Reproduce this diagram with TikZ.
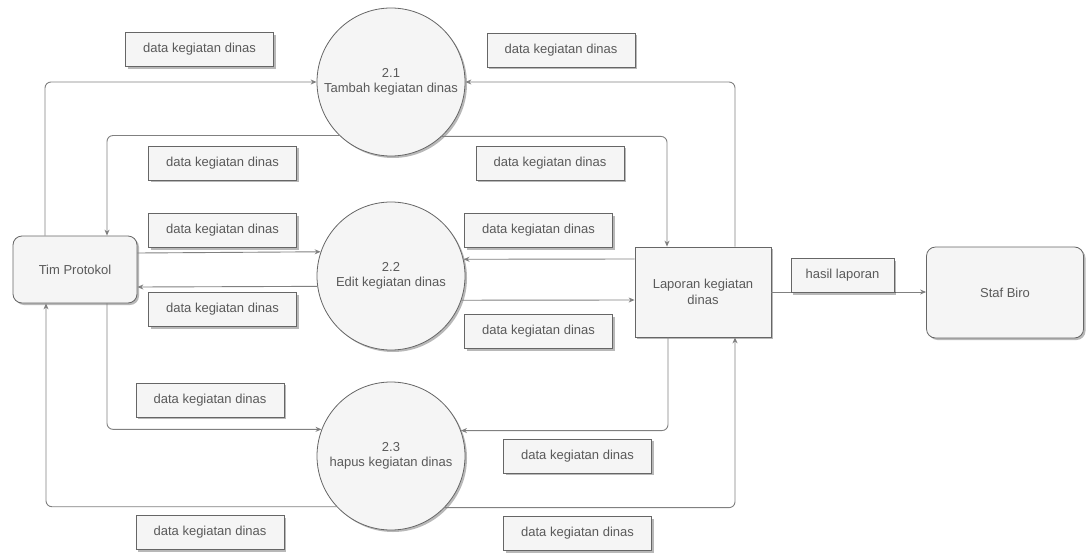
\documentclass[tikz,border=0pt]{standalone}
\usepackage{fontspec}
\setmainfont{Liberation Sans}
\usetikzlibrary{arrows.meta,shadows}
\definecolor{lnc}{HTML}{808080}
\definecolor{bdc}{HTML}{666666}
\definecolor{fil}{HTML}{F5F5F5}
\definecolor{txc}{HTML}{5A5A5A}
\begin{document}
\begin{tikzpicture}[x=1pt,y=-1pt,
  shad/.style={drop shadow={shadow xshift=2pt,shadow yshift=-2pt,fill=black,opacity=0.28}},
  base/.style={draw=bdc,fill=fil,text=txc,font=\fontsize{13}{15.5}\selectfont,line width=0.8pt,align=center,inner sep=0pt,shad},
  proc/.style={base,circle,minimum size=148pt},
  ent/.style={base,rectangle,rounded corners=9pt},
  store/.style={base,rectangle},
  lbl/.style={base,rectangle,minimum width=148pt,minimum height=34pt},
  flow/.style={draw=lnc,line width=0.9pt,rounded corners=6pt,-{Stealth[length=6pt,width=5pt]}}
]
\fill[white] (0,0) rectangle (1086,554);
\useasboundingbox (0,0) rectangle (1086,554);

% main nodes
\node[ent,minimum width=124pt,minimum height=67pt] (tp) at (75,269.5) {Tim Protokol};
\node[proc] (c1) at (391,82) {2.1\\Tambah kegiatan dinas};
\node[proc] (c2) at (391,276) {2.2\\Edit kegiatan dinas};
\node[proc] (c3) at (391,456) {2.3\\hapus kegiatan dinas};
\node[store,minimum width=136pt,minimum height=90pt] (lap) at (703,292) {Laporan kegiatan\\dinas};
\node[ent,minimum width=157pt,minimum height=91pt] (staf) at (1005,292.5) {Staf Biro};

% connectors
\draw[flow] (tp.north -| 45,0) |- (c1.180);
\draw[flow] (c1.226.8) -| (tp.north -| 107,0);
\draw[flow] (c1.313.2) -| (lap.north -| 667,0);
\draw[flow] (lap.north -| 735,0) |- (c1.0);

\draw[flow] (tp.east |- 0,253) -- (c2.161.9);
\draw[flow] (c2.188.55) -- (tp.east |- 0,287);
\draw[flow] (lap.west |- 0,259) -- (c2.13.3);
\draw[flow] (c2.341.1) -- (lap.west |- 0,300);

\draw[flow] (tp.south -| 107,0) |- (c3.159.4);
\draw[flow] (lap.south -| 668,0) |- (c3.20.6);
\draw[flow] (c3.223.6) -| (tp.south -| 46,0);
\draw[flow] (c3.316.4) -| (lap.south -| 735,0);

\draw[flow] (lap.east) -- (staf.west |- lap.east);

% labels
\node[lbl] (l1) at (199.5,49.5) {data kegiatan dinas};
\node[lbl] (l2) at (561,50) {data kegiatan dinas};
\node[lbl] (l3) at (222.5,163) {data kegiatan dinas};
\node[lbl] (l4) at (550,163) {data kegiatan dinas};
\node[lbl] (l5) at (222.5,230.5) {data kegiatan dinas};
\node[lbl] (l6) at (538.5,230.5) {data kegiatan dinas};
\node[lbl] (l7) at (222.5,309.5) {data kegiatan dinas};
\node[lbl] (l8) at (538.5,331.5) {data kegiatan dinas};
\node[lbl] (l9) at (210,400) {data kegiatan dinas};
\node[lbl] (l10) at (577.5,456) {data kegiatan dinas};
\node[lbl] (l11) at (210,532.5) {data kegiatan dinas};
\node[lbl] (l12) at (577.5,533.5) {data kegiatan dinas};
\node[lbl,minimum width=103pt] (l13) at (842.5,275.5) {hasil laporan};
\end{tikzpicture}
\end{document}
